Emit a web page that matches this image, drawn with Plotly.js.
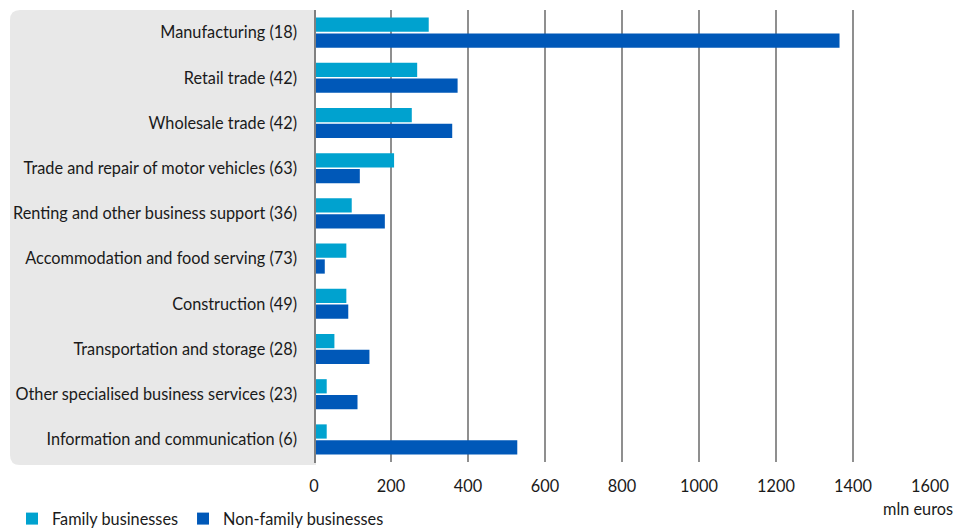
<!DOCTYPE html>
<html>
<head>
<meta charset="utf-8">
<script src="https://cdn.plot.ly/plotly-3.0.1.min.js"></script>
<style>html,body{margin:0;padding:0;background:#fff;}#chart{width:959px;height:530px;}</style>
</head>
<body>
<div id="chart"></div>
<script>
var categories = [
  "Manufacturing (18)",
  "Retail trade (42)",
  "Wholesale trade (42)",
  "Trade and repair of motor vehicles (63)",
  "Renting and other business support (36)",
  "Accommodation and food serving (73)",
  "Construction (49)",
  "Transportation and storage (28)",
  "Other specialised business services (23)",
  "Information and communication (6)"
];
var familyValues = [298, 268, 254, 208, 98, 84, 84, 53, 33, 33];
var nonFamilyValues = [1365, 373, 359, 119, 184, 28, 89, 144, 113, 528];
var seriesNames = ["Family businesses", "Non-family businesses"];
var tickValues = [0, 200, 400, 600, 800, 1000, 1200, 1400, 1600];
var unitLabel = "mln euros";

var W = 959, H = 530;
var M = {l: 314, r: 29, t: 10, b: 68, autoexpand: false};
var pw = W - M.l - M.r, ph = H - M.t - M.b;
function px(x){ return (x - M.l) / pw; }
function py(y){ return (H - M.b - y) / ph; }

// rounded grey panel behind category labels
var bx0 = 10, bx1 = 316, by0 = 10, by1 = 465, r = 10;
var panelPath = "M " + px(bx1) + "," + py(by0) +
  " L " + px(bx0 + r) + "," + py(by0) +
  " Q " + px(bx0) + "," + py(by0) + " " + px(bx0) + "," + py(by0 + r) +
  " L " + px(bx0) + "," + py(by1 - r) +
  " Q " + px(bx0) + "," + py(by1) + " " + px(bx0 + r) + "," + py(by1) +
  " L " + px(bx1) + "," + py(by1) + " Z";

var font = "Lato, 'Open Sans', sans-serif";
var fs = 16.3;

var data = [
  {type: "bar", orientation: "h", name: seriesNames[0], y: categories, x: familyValues,
   marker: {color: "#00A2CF"}},
  {type: "bar", orientation: "h", name: seriesNames[1], y: categories, x: nonFamilyValues,
   marker: {color: "#0058B8"}}
];

var layout = {
  width: W, height: H,
  margin: M,
  paper_bgcolor: "#ffffff",
  plot_bgcolor: "rgba(0,0,0,0)",
  font: {family: font, size: fs, color: "#1a1a1a"},
  barmode: "group",
  bargap: 0.3,
  bargroupgap: 0.1,
  showlegend: true,
  legend: {orientation: "h", x: px(12), y: py(519), yanchor: "middle", xanchor: "left",
           font: {family: font, size: fs, color: "#1a1a1a"}, itemwidth: 30,
           bgcolor: "rgba(0,0,0,0)"},
  xaxis: {range: [0, 1600], tickvals: tickValues, showgrid: true, gridcolor: "#8f8f8f", gridwidth: 2,
          zeroline: false, showline: false, ticks: "", ticklabelstandoff: 13,
          tickfont: {family: font, size: fs, color: "#1a1a1a"}, fixedrange: true},
  yaxis: {type: "category", autorange: "reversed", showgrid: false, zeroline: false,
          showline: false, ticks: "", ticklabelstandoff: 16,
          tickfont: {family: font, size: fs, color: "#1a1a1a"}, fixedrange: true},
  shapes: [
    {type: "path", xref: "paper", yref: "paper", path: panelPath, fillcolor: "#e8e8e8",
     line: {width: 0}, layer: "below"},
    {type: "line", xref: "x", yref: "paper", x0: 0, x1: 0, y0: py(463), y1: py(10),
     line: {color: "#808080", width: 4}, layer: "above"}
  ],
  annotations: [
    {text: unitLabel, xref: "paper", yref: "paper", x: px(955), y: py(508), xanchor: "right",
     yanchor: "middle", showarrow: false, font: {family: font, size: fs, color: "#1a1a1a"}}
  ]
};

Plotly.newPlot("chart", data, layout, {displayModeBar: false, staticPlot: true});
</script>
</body>
</html>
